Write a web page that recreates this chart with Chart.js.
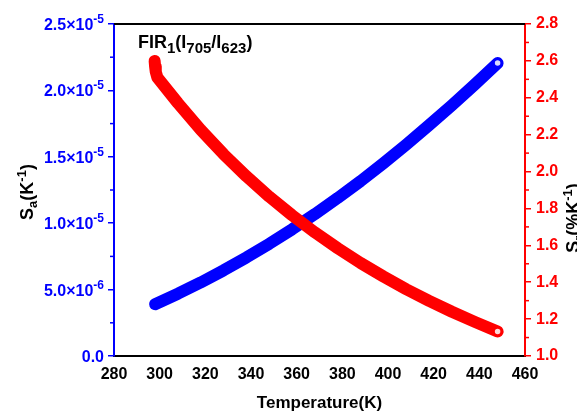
<!DOCTYPE html>
<html>
<head>
<meta charset="utf-8">
<script src="https://cdn.jsdelivr.net/npm/chart.js@4/dist/chart.umd.min.js"></script>
<style>
html,body{margin:0;padding:0;background:#fff;}
#wrap{width:577px;height:411px;position:relative;}
</style>
</head>
<body>
<div id="wrap"><canvas id="c"></canvas></div>
<script>
// ---- data ----
const tempA = [298, 308, 318, 328, 338, 348, 358, 368, 378, 388, 398, 408, 418, 428, 438, 448];
const sa = [3.90e-6, 4.69e-6, 5.54e-6, 6.45e-6, 7.42e-6, 8.45e-6, 9.54e-6, 10.69e-6, 11.90e-6, 13.17e-6, 14.52e-6, 15.92e-6, 17.38e-6, 18.88e-6, 20.44e-6, 22.06e-6];
const tempR = [297.8, 298.0, 298.3, 299, 308, 318, 328, 338, 348, 358, 368, 378, 388, 398, 408, 418, 428, 438, 448];
const sr = [2.60, 2.57, 2.54, 2.51, 2.371, 2.226, 2.094, 1.974, 1.864, 1.763, 1.670, 1.584, 1.504, 1.431, 1.362, 1.299, 1.240, 1.185, 1.133];
const xTicks = [280, 300, 320, 340, 360, 380, 400, 420, 440, 460];
const saTicks = [0, 5e-6, 1e-5, 1.5e-5, 2e-5, 2.5e-5];
const srTicks = [1.0, 1.2, 1.4, 1.6, 1.8, 2.0, 2.2, 2.4, 2.6, 2.8];
const labelText = {x: 'Temperature(K)', fir: ['FIR', '1', '(I', '705', '/I', '623', ')']};

const FONT = "Arial, 'Liberation Sans', sans-serif";
const BLUE = '#0000ff', RED = '#ff0000';

function sciParts(v) {
  if (Math.abs(v) < 1e-12) return [{t: '0.0', s: 16}];
  let e = Math.floor(Math.log10(v));
  let m = v / Math.pow(10, e);
  if (m >= 9.95) { e += 1; m = v / Math.pow(10, e); }
  return [{t: m.toFixed(1) + '\u00d710', s: 16}, {t: String(e), s: 12, dy: -7}];
}

const ptsA = tempA.map((t, i) => ({x: t, y: sa[i]}));
const ptsR = tempR.map((t, i) => ({x: t, y: sr[i]}));

function drawRich(ctx, parts, x, y, align) {
  let w = 0;
  parts.forEach(p => { ctx.font = 'bold ' + p.s + 'px ' + FONT; p.w = ctx.measureText(p.t).width; w += p.w; });
  let cx = align === 'center' ? x - w / 2 : (align === 'right' ? x - w : x);
  ctx.textAlign = 'left';
  ctx.textBaseline = 'alphabetic';
  parts.forEach(p => { ctx.font = 'bold ' + p.s + 'px ' + FONT; ctx.fillText(p.t, cx, y + (p.dy || 0)); cx += p.w; });
}

const decor = {
  id: 'decor',
  afterDraw(chart) {
    const ctx = chart.ctx, a = chart.chartArea;
    const yl = chart.scales.ySa, yr = chart.scales.ySr;
    ctx.save();
    // top frame line
    ctx.strokeStyle = '#000'; ctx.lineWidth = 2;
    ctx.beginPath(); ctx.moveTo(a.left, a.top); ctx.lineTo(a.right, a.top); ctx.stroke();
    // minor ticks
    ctx.lineWidth = 1.5;
    ctx.strokeStyle = BLUE;
    for (let i = 0; i < saTicks.length - 1; i++) {
      const py = yl.getPixelForValue((saTicks[i] + saTicks[i + 1]) / 2);
      ctx.beginPath(); ctx.moveTo(a.left - 1, py); ctx.lineTo(a.left - 4, py); ctx.stroke();
    }
    ctx.strokeStyle = RED;
    for (let i = 0; i < srTicks.length - 1; i++) {
      const py = yr.getPixelForValue((srTicks[i] + srTicks[i + 1]) / 2);
      ctx.beginPath(); ctx.moveTo(a.right + 1, py); ctx.lineTo(a.right + 4, py); ctx.stroke();
    }
    // left tick labels with superscripts
    ctx.fillStyle = BLUE;
    saTicks.forEach(v => {
      const py = yl.getPixelForValue(v);
      drawRich(ctx, sciParts(v), 104, py + 6, 'right');
    });
    // x title
    ctx.fillStyle = '#000';
    drawRich(ctx, [{t: labelText.x, s: 17}], (a.left + a.right) / 2, 408, 'center');
    // left title
    ctx.save();
    ctx.translate(33, 192); ctx.rotate(-Math.PI / 2);
    drawRich(ctx, [{t:'S', s:18}, {t:'a', s:13, dy:4}, {t:'(K', s:18}, {t:'-1', s:13, dy:-7}, {t:')', s:18}], 0, 0, 'center');
    ctx.restore();
    // right title
    ctx.save();
    ctx.translate(579, 218); ctx.rotate(-Math.PI / 2);
    drawRich(ctx, [{t:'S', s:18}, {t:'r', s:13, dy:4}, {t:'(%K', s:18}, {t:'-1', s:13, dy:-7}, {t:')', s:18}], 0, 0, 'center');
    ctx.restore();
    // annotation
    const f = labelText.fir;
    drawRich(ctx, [{t:f[0], s:18}, {t:f[1], s:15, dy:5}, {t:f[2], s:18}, {t:f[3], s:15, dy:5}, {t:f[4], s:18}, {t:f[5], s:15, dy:5}, {t:f[6], s:18}], 138, 48, 'left');
    ctx.restore();
  }
};

function ds(label, pts, color, axis, order) {
  const bg = pts.map((p, i) => i === pts.length - 1 ? 'rgba(255,255,255,0.85)' : color);
  return {
    label, data: pts, yAxisID: axis, order,
    showLine: true, borderColor: color, borderWidth: 12, borderCapStyle: 'round', borderJoinStyle: 'round',
    tension: 0,
    pointRadius: 4, pointBorderWidth: 2.5, pointBorderColor: color, pointBackgroundColor: bg,
    clip: false
  };
}

new Chart(document.getElementById('c'), {
  type: 'scatter',
  data: {
    datasets: [
      ds('Sr', ptsR, RED, 'ySr', 0),
      ds('Sa', ptsA, BLUE, 'ySa', 1)
    ]
  },
  options: {
    responsive: true, maintainAspectRatio: false, animation: false,
    layout: {padding: {top: 24, left: 0, right: 0, bottom: 0}},
    plugins: {legend: {display: false}, tooltip: {enabled: false}},
    scales: {
      x: {
        type: 'linear', position: 'bottom', min: 280, max: 460,
        afterBuildTicks: s => { s.ticks = xTicks.map(v => ({value: v})); },
        afterFit: s => { s.height = 55; },
        grid: {display: false},
        border: {display: true, color: '#000', width: 2},
        ticks: {color: '#000', padding: 1, font: {family: FONT, size: 16, weight: 'bold'}, maxRotation: 0, callback: v => String(v)}
      },
      ySa: {
        type: 'linear', position: 'left', min: 0, max: 2.5e-5,
        afterBuildTicks: s => { s.ticks = saTicks.map(v => ({value: v})); },
        afterFit: s => { s.width = 114; },
        grid: {display: true, drawOnChartArea: false, drawTicks: true, tickLength: 6, color: BLUE, lineWidth: 1.5},
        border: {display: true, color: BLUE, width: 2},
        ticks: {color: BLUE, padding: 4, font: {family: FONT, size: 15, weight: 'bold'}, callback: () => ''}
      },
      ySr: {
        type: 'linear', position: 'right', min: 1.0, max: 2.8,
        afterBuildTicks: s => { s.ticks = srTicks.map(v => ({value: v})); },
        afterFit: s => { s.width = 52; },
        grid: {display: true, drawOnChartArea: false, drawTicks: true, tickLength: 6, color: RED, lineWidth: 1.5},
        border: {display: true, color: RED, width: 2},
        ticks: {color: RED, padding: 5, font: {family: FONT, size: 16, weight: 'bold'}, callback: v => v.toFixed(1)}
      }
    }
  },
  plugins: [decor]
});
</script>
</body>
</html>
